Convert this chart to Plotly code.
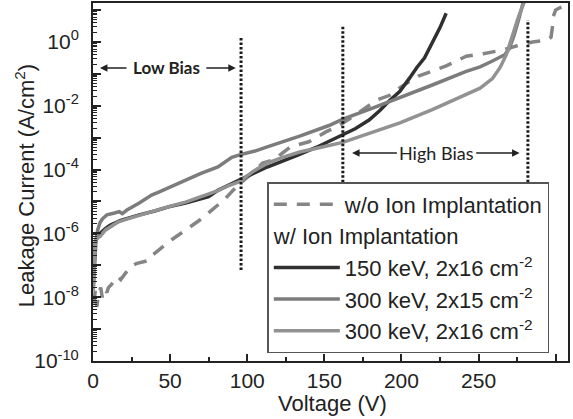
import plotly.graph_objects as go

# ---------------- data (voltage in V, log10 of current density in A/cm^2) -------------
v_wo = [0.5, 1.5, 2.5, 3.5, 5, 6, 7.5, 9, 10, 12, 14, 16, 18, 20, 24, 28, 32, 36, 38, 42,
        51, 60, 71, 77, 85, 91, 96, 110, 117, 128, 140, 151, 158, 170, 184, 192, 200, 211,
        229, 242, 253, 266, 275, 285, 294, 297, 298, 298.5, 300, 304]
logj_wo = [-8.2, -7.8, -8.3, -7.9, -7.7, -8.0, -7.75, -7.85, -7.7, -7.6, -7.45, -7.35, -7.45,
           -7.3, -7.05, -6.95, -6.9, -6.85, -6.7, -6.55, -6.2, -5.9, -5.52, -5.27, -4.95,
           -4.64, -4.42, -3.8, -3.7, -3.29, -3.13, -2.82, -2.66, -2.3, -1.82, -1.68, -1.4,
           -1.07, -0.75, -0.45, -0.37, -0.25, -0.12, 0.0, 0.05, 0.15, 0.5, 0.8, 1.0, 1.1]

v_150_16 = [0.2, 0.8, 1.5, 3, 4.5, 8, 11, 17.5, 24, 30, 40, 49, 60, 68, 75, 81, 88, 95, 104,
            113, 124, 132, 145, 155, 162, 170, 179, 186, 192, 199, 205, 210, 215, 220, 225, 229]
logj_150_16 = [-7.6, -6.8, -6.3, -6.1, -6.0, -5.85, -5.75, -5.6, -5.5, -5.42, -5.3, -5.17,
               -5.05, -4.95, -4.85, -4.65, -4.48, -4.33, -4.12, -3.92, -3.72, -3.56, -3.3,
               -3.08, -2.92, -2.72, -2.45, -2.15, -1.85, -1.55, -1.15, -0.8, -0.5, -0.05,
               0.45, 0.9]

v_300_15 = [0.2, 1, 2, 3, 4.5, 6, 9, 14, 17, 19, 22, 30, 38, 43, 50, 60, 70, 81, 86, 90, 95,
            105, 113, 125, 134, 153, 162, 180, 199, 220, 242, 251, 258, 263, 267, 270, 273,
            276, 279]
logj_300_15 = [-7.7, -6.8, -6.2, -5.9, -5.67, -5.55, -5.42, -5.36, -5.32, -5.38, -5.27,
               -5.05, -4.8, -4.7, -4.55, -4.33, -4.12, -3.92, -3.75, -3.62, -3.54, -3.42,
               -3.29, -3.1, -2.95, -2.62, -2.42, -2.1, -1.75, -1.35, -0.92, -0.78, -0.62,
               -0.5, -0.4, -0.2, 0.2, 0.7, 1.25]

v_300_16 = [0.2, 0.8, 1.3, 2.5, 4.5, 8, 11, 16, 24, 32, 40, 50, 60, 70, 81, 88, 95, 104, 113,
            124, 134, 148, 162, 180, 199, 220, 242, 251, 259, 264, 268, 272, 276, 280]
logj_300_16 = [-7.8, -7.0, -6.3, -6.15, -6.1, -5.9, -5.8, -5.65, -5.52, -5.4, -5.3, -5.15,
               -5.02, -4.85, -4.66, -4.5, -4.38, -4.05, -3.8, -3.6, -3.45, -3.3, -3.15,
               -2.85, -2.54, -2.12, -1.65, -1.45, -1.15, -0.8, -0.4, 0.2, 0.8, 1.3]

# region boundaries (dotted lines): voltage, bottom/top log10 current
bound_v = [96, 162, 282]
bound_lo = [-7.15, -4.4, -4.4]
bound_hi = [0.13, 0.51, 0.69]

# axis ticks
x_ticks = [0, 50, 100, 150, 200, 250, 300]
y_decades = [-10, -9, -8, -7, -6, -5, -4, -3, -2, -1, 0, 1]
y_labels = ["10<sup>%d</sup>" % d if d % 2 == 0 and d <= 0 else "" for d in y_decades]

# annotation positions (voltage, log10 current)
low_bias_y = -0.815
high_bias_y = -3.48

FONT = "Liberation Sans, Arial, sans-serif"
TXT = "#222222"


def pw(vals):
    return [10 ** v for v in vals]


fig = go.Figure()

fig.add_trace(go.Scatter(x=v_wo, y=pw(logj_wo), mode="lines", name="w/o Ion Implantation",
                         legendgroup="a",
                         line=dict(color="#858585", width=3.5, dash="13px,10px")))
fig.add_trace(go.Scatter(x=v_150_16, y=pw(logj_150_16), mode="lines",
                         name="150 keV, 2x16 cm<sup>-2</sup>", legendgroup="w",
                         legendgrouptitle=dict(text="w/ Ion Implantation",
                                               font=dict(size=22, color=TXT, family=FONT)),
                         line=dict(color="#303030", width=3.5)))
fig.add_trace(go.Scatter(x=v_300_15, y=pw(logj_300_15), mode="lines",
                         name="300 keV, 2x15 cm<sup>-2</sup>", legendgroup="w",
                         line=dict(color="#7c7c7c", width=3.5)))
fig.add_trace(go.Scatter(x=v_300_16, y=pw(logj_300_16), mode="lines",
                         name="300 keV, 2x16 cm<sup>-2</sup>", legendgroup="w",
                         line=dict(color="#929292", width=3.5)))

for bv, lo, hi in zip(bound_v, bound_lo, bound_hi):
    fig.add_trace(go.Scatter(x=[bv, bv], y=[10 ** lo, 10 ** hi], mode="lines",
                             showlegend=False, hoverinfo="skip",
                             line=dict(color="#1a1a1a", width=3, dash="2.5px,2px")))

# arrows and labels
arrows = [
    (22.7, 4.5, low_bias_y), (72.5, 92.6, low_bias_y),
    (198, 168, high_bias_y), (247.5, 276.6, high_bias_y),
]
annotations = []
for tail, head, yy in arrows:
    annotations.append(dict(x=head, y=yy, ax=tail, ay=yy, xref="x", yref="y",
                            axref="x", ayref="y", text="", showarrow=True,
                            arrowhead=2, arrowsize=1, arrowwidth=1.5, arrowcolor=TXT))
annotations.append(dict(x=47.5, y=low_bias_y, xref="x", yref="y", text="<b>Low Bias</b>",
                        showarrow=False,
                        font=dict(family="Lato, Open Sans, sans-serif", size=17, color=TXT)))
annotations.append(dict(x=222.8, y=high_bias_y, xref="x", yref="y", text="High Bias",
                        showarrow=False,
                        font=dict(family="Lato, Open Sans, sans-serif", size=18, color=TXT)))
# axis titles
annotations.append(dict(x=-0.144, y=0.49, xref="paper", yref="paper", textangle=-90,
                        text="Leakage Current (A/cm<sup>2</sup>)", showarrow=False,
                        xanchor="center", yanchor="middle",
                        font=dict(family=FONT, size=22, color=TXT)))
annotations.append(dict(x=0.504, y=-0.119, xref="paper", yref="paper",
                        text="Voltage (V)", showarrow=False,
                        xanchor="center", yanchor="middle",
                        font=dict(family=FONT, size=22, color=TXT)))

fig.update_layout(
    width=573, height=419,
    margin=dict(l=93, r=5, t=3, b=58, autoexpand=False),
    paper_bgcolor="white", plot_bgcolor="white",
    font=dict(family=FONT, size=21, color=TXT),
    showlegend=True,
    legend=dict(x=0.367, y=0.5, xanchor="left", yanchor="top",
                bgcolor="white", bordercolor="#555555", borderwidth=1.5,
                font=dict(size=22, family=FONT, color=TXT), itemwidth=66,
                tracegroupgap=0, traceorder="grouped"),
    annotations=annotations,
    xaxis=dict(range=[0, 308], tickvals=x_ticks, ticks="inside", ticklen=7, tickwidth=2,
               tickcolor="#222", showline=True, linecolor="#222", linewidth=2, mirror=True,
               showgrid=False, zeroline=False, automargin=False,
               minor=dict(ticks="inside", ticklen=4, tickwidth=1.5, dtick=25,
                          tickcolor="#222", showgrid=False),
               tickfont=dict(size=21)),
    yaxis=dict(type="log", range=[-10, 1.22], tickmode="array",
               tickvals=[10.0 ** d for d in y_decades], ticktext=y_labels,
               ticks="inside", ticklen=8, tickwidth=2, tickcolor="#222",
               showline=True, linecolor="#222", linewidth=2, mirror=True,
               showgrid=False, zeroline=False, ticklabelstandoff=8, automargin=False,
               minor=dict(ticks="inside", ticklen=4, tickwidth=1, dtick="D1",
                          tickcolor="#222", showgrid=False),
               tickfont=dict(size=21)),
)

fig.write_html("out.html", config={"displayModeBar": False},
               post_script="document.body.style.margin='0';document.body.style.padding='0';")
